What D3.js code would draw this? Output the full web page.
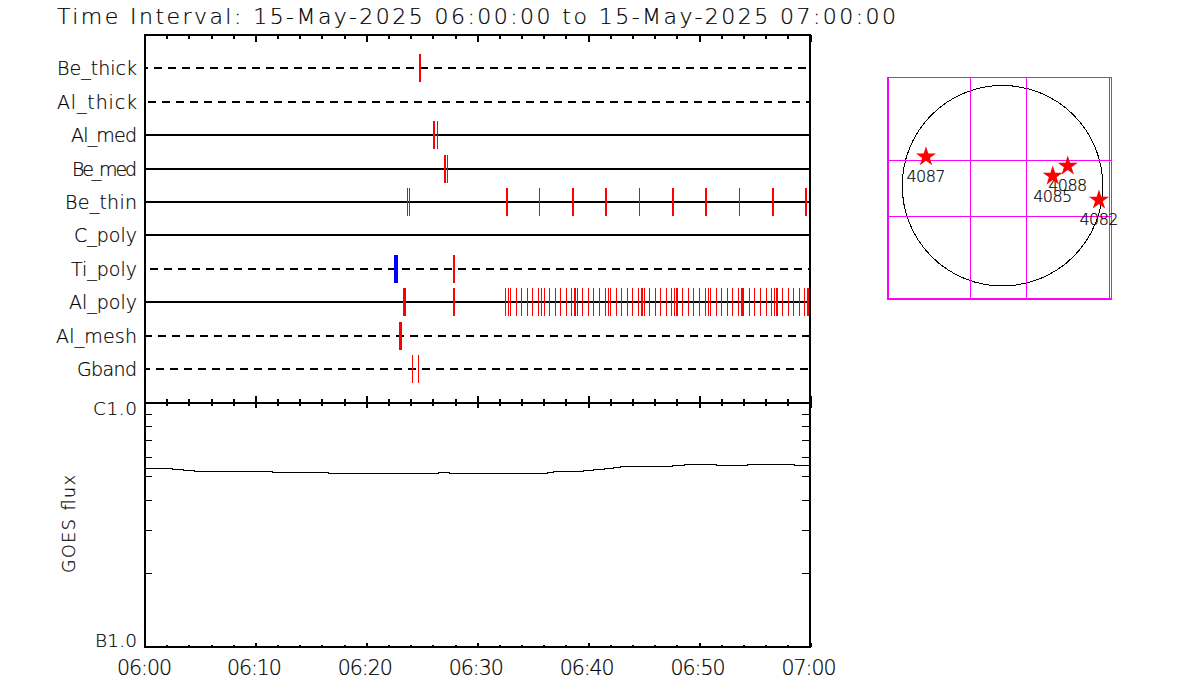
<!DOCTYPE html>
<html><head><meta charset="utf-8">
<script src="https://cdn.jsdelivr.net/npm/d3@7"></script>
<style>
html,body{margin:0;padding:0;background:#fff}
svg{display:block}
text{font-family:"DejaVu Sans",Roboto,sans-serif;font-weight:200;fill:#000;stroke:#000;stroke-width:0.2px}
</style></head><body><svg id="c" width="1200" height="700"></svg>
<script>
// ---- data ----
const titleText = "Time Interval: 15-May-2025 06:00:00 to 15-May-2025 07:00:00";
const channels = ["Be_thick","Al_thick","Al_med","Be_med","Be_thin","C_poly","Ti_poly","Al_poly","Al_mesh","Gband"];
const channelsWithData = ["Al_med","Be_med","Be_thin","C_poly","Al_poly"];
// event times, minutes after 06:00, by exposure class
const shortExposures = {
  Al_med:[26.43], Be_med:[27.33],
  Be_thin:[23.75,23.9,35.61,44.62,53.64],
  Gband:[24.17,24.71],
  Al_poly:[32.55,32.82,33.0,33.54,33.99,34.53,34.98,35.52,35.79,36.06,36.51,37.05,37.5,38.05,38.5,38.77,38.86,39.04,39.49,40.03,40.48,41.02,41.56,41.83,42.01,42.55,43.0,43.54,43.99,44.53,44.8,44.92,45.07,45.52,46.06,46.52,47.06,47.51,47.81,47.93,48.05,48.5,49.04,49.49,50.03,50.57,50.84,51.02,51.57,52.02,52.56,53.01,53.55,53.85,53.94,54.0,54.54,54.99,55.53,56.07,56.52,56.82,56.94,57.06,57.51,58.05,58.5,59.04,59.49,59.79,59.88,59.97]
};
const mediumExposures = {
  Be_thick:[24.86], Al_med:[26.13], Be_med:[27.12],
  Be_thin:[32.67,38.65,41.62,47.66,50.63,56.67,59.64],
  Ti_poly:[27.9], Al_poly:[27.9]
};
const longExposures = { Al_poly:[23.45], Al_mesh:[23.09] };
const saturatedExposures = { Ti_poly:[22.69] };

const fluxTimes  = [0,2.5,3.5,4.5,11.5,16.6,26.5,27.5,36.3,36.9,39.6,40.5,41.5,42.3,42.9,47.6,48.7,51.6,54.4,58.6,59.5,60];
const fluxValues = [5.37,5.32,5.27,5.22,5.17,5.12,5.17,5.12,5.17,5.22,5.27,5.32,5.37,5.42,5.47,5.53,5.58,5.53,5.58,5.53,5.53,5.53].map(v=>v*1e-7);
const fluxTickLabels = ["B1.0","C1.0"];
const timeMajor = [0,10,20,30,40,50,60];
const timeLabels = ["06:00","06:10","06:20","06:30","06:40","06:50","07:00"];
const timeMinor = d3.range(0,61,2);

const regions = ["4087","4088","4085","4082"];
const regionX = [-725,618,476,914];      // arcsec
const regionY = [275,187,92,-135];
const gridX = [-306,226];
const gridY = [241,-290];
const solarRadius = 950;

// ---- layout ----
const svg = d3.select("#c");
const L=145,R=810,T=35,M=402.5,B=647;
const x = d3.scaleLinear().domain([0,60]).range([144.5,810]);
const yRow = d3.scaleLinear().domain([-1,10]).range([T,M]);
const yFlux = d3.scaleLog().domain([1e-7,1e-6]).range([B,M]);

function solid(g,x1,y1,x2,y2,w,c){
  g.append("line").attr("x1",x1).attr("y1",y1).attr("x2",x2).attr("y2",y2)
   .attr("stroke",c||"#000").attr("stroke-width",w).attr("shape-rendering","crispEdges");
}

// title
svg.append("text").attr("x",57).attr("y",24).attr("font-size",22)
  .attr("textLength",839).attr("lengthAdjust","spacing").text(titleText);

// channel rows
const dashPhase = {Be_thick:0,Al_thick:8,Ti_poly:10,Al_mesh:4,Gband:2};
const labelWidth = {Be_thick:80,Al_thick:80,Al_med:66,Be_med:65,Be_thin:72,C_poly:63,Ti_poly:66,Al_poly:68,Al_mesh:81,Gband:60};
const rows = svg.append("g");
channels.forEach((name,i)=>{
  const y = Math.round(yRow(i));
  const ln = rows.append("line").attr("x1",146).attr("x2",809).attr("y1",y).attr("y2",y)
    .attr("stroke","#000").attr("stroke-width",2).attr("shape-rendering","crispEdges");
  if(!channelsWithData.includes(name)){
    ln.attr("stroke-dasharray","8 6").attr("stroke-dashoffset",146-dashPhase[name]);
  }
  svg.append("text").attr("x",137).attr("y",y+7).attr("text-anchor","end")
    .attr("font-size",19).attr("textLength",labelWidth[name]).attr("lengthAdjust","spacing").text(name);
  [[shortExposures,1,"#f00"],[mediumExposures,2,"#f00"],[longExposures,3,"#f00"],[saturatedExposures,4,"#00f"]]
  .forEach(([set,w,c])=>{
    rows.append("g").selectAll("line").data(set[name]||[]).join("line")
      .attr("x1",d=>x(d)).attr("x2",d=>x(d)).attr("y1",y-14).attr("y2",y+14)
      .attr("stroke",c).attr("stroke-width",w).attr("shape-rendering","crispEdges");
  });
});

// flux curve
const fluxLine = d3.line().x(d=>x(d[0])).y(d=>yFlux(d[1])).curve(d3.curveStepAfter);
svg.append("path").attr("d",fluxLine(fluxTimes.map((t,i)=>[t,fluxValues[i]])))
  .attr("fill","none").attr("stroke","#000").attr("stroke-width",1).attr("shape-rendering","crispEdges");

// axes, drawn with d3.axis then styled
function timeAxis(axisFn,y,sizeMinor,sizeMajor){
  [[timeMinor,sizeMinor],[timeMajor,sizeMajor]].forEach(([vals,s])=>{
    const g = svg.append("g").attr("transform",`translate(0,${y})`)
      .call(axisFn(x).tickValues(vals).tickSize(s).tickSizeOuter(0).tickFormat(""));
    g.selectAll("path").remove();
    g.selectAll("line").attr("stroke","#000").attr("stroke-width",2).attr("shape-rendering","crispEdges");
  });
}
timeAxis(d3.axisBottom,T,4,7);
timeAxis(d3.axisTop,M,4,7);
timeAxis(d3.axisBottom,M,3,5);
timeAxis(d3.axisTop,B,2,4);

const logTicks = d3.range(2,10).map(k=>k*1e-7);
[[d3.axisRight,L],[d3.axisLeft,R-1]].forEach(([fn,px])=>{
  const g = svg.append("g").attr("transform",`translate(${px},0)`)
    .call(fn(yFlux).tickValues(logTicks).tickSize(7).tickSizeOuter(0).tickFormat(""));
  g.selectAll("path").remove();
  g.selectAll("line").attr("stroke","#000").attr("stroke-width",1).attr("shape-rendering","crispEdges");
});

// frame
solid(svg,145,T,145,B,2);
solid(svg,810,T,810,B,2);
[T,Math.round(M),B].forEach(y=>solid(svg,144,y,811,y,2));

// axis text
timeMajor.forEach((t,i)=>{
  svg.append("text").attr("x",x(t)+(i==0?0:-1)).attr("y",675).attr("text-anchor","middle")
    .attr("font-size",20.5).attr("textLength",55).attr("lengthAdjust","spacing").text(timeLabels[i]);
});
svg.append("text").attr("x",137).attr("y",415).attr("text-anchor","end").attr("font-size",18.5).attr("textLength",44).attr("lengthAdjust","spacing").text(fluxTickLabels[1]);
svg.append("text").attr("x",137).attr("y",647).attr("text-anchor","end").attr("font-size",18.5).attr("textLength",42).attr("lengthAdjust","spacing").text(fluxTickLabels[0]);
svg.append("text").attr("transform","translate(75,524) rotate(-90)").attr("text-anchor","middle")
  .attr("font-size",17.5).attr("textLength",98).attr("lengthAdjust","spacing").text("GOES flux");

// solar disc map
const mx = d3.scaleLinear().domain([-1085,1028]).range([888,1111]);
const my = d3.scaleLinear().domain([-1078,1030]).range([299.5,77]);
const map = svg.append("g");
map.append("circle").attr("cx",mx(0)).attr("cy",my(0)).attr("r",mx(solarRadius)-mx(0))
  .attr("fill","none").attr("stroke","#000").attr("stroke-width",1).attr("shape-rendering","crispEdges");
const mag="#f0f";
gridX.forEach(v=>solid(map,mx(v),77,mx(v),299,1,mag));
gridY.forEach(v=>solid(map,888,my(v),1111,my(v),1,mag));
solid(map,888,77,888,300,2,mag);
solid(map,887,299,1112,299,2,mag);
solid(map,887,77.5,1112,77.5,1,mag);
solid(map,1109.5,77,1109.5,300,1,mag);
solid(map,1111.5,77,1111.5,300,1,mag);
const star = d3.symbol(d3.symbolStar,124);
regions.forEach((name,i)=>{
  map.append("path").attr("d",star()).attr("transform",`translate(${mx(regionX[i])},${my(regionY[i])})`).attr("fill","#f00");
  map.append("text").attr("x",mx(regionX[i])).attr("y",my(regionY[i])+25.5).attr("text-anchor","middle")
    .attr("font-size",16).attr("textLength",39).attr("lengthAdjust","spacing").text(name);
});
</script></body></html>
